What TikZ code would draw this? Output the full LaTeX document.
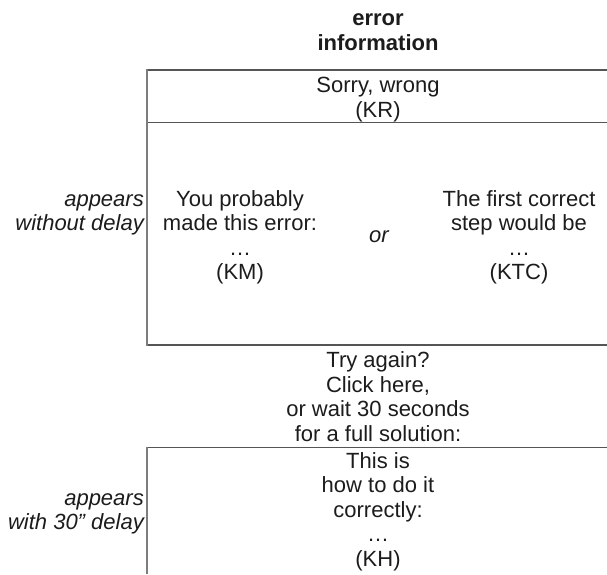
\documentclass[tikz,border=0pt]{standalone}
\usepackage{fontspec}
\setmainfont{Liberation Sans}
\newcommand\cblk[1]{\begin{tabular}[t]{@{}c@{}}#1\end{tabular}}
\newcommand\rblk[1]{\begin{tabular}[t]{@{}r@{}}#1\end{tabular}}
\definecolor{txt}{RGB}{28,28,28}
\definecolor{hline}{RGB}{85,85,85}
\definecolor{vline}{RGB}{125,125,125}
\tikzset{
  lbl/.style={inner sep=0pt, anchor=base, text=txt, font=\fontsize{22}{24.5}\selectfont},
  side/.style={lbl, anchor=base east, font=\fontsize{22}{24.5}\selectfont\itshape},
  hrule/.style={draw=hline, line width=1.3pt},
  vrule/.style={draw=vline, line width=1.6pt}
}
\begin{document}
\begin{tikzpicture}[x=1pt, y=-1pt]
\useasboundingbox[fill=white] (0,0) rectangle (607,574);
% frames
\draw[hrule] (146.7,70) -- (607,70);
\draw[hrule] (146.7,122.7) -- (607,122.7);
\draw[hrule] (146.7,345) -- (607,345);
\draw[vrule] (146.7,69.4) -- (146.7,345.6);
\draw[hrule] (146.7,447.3) -- (607,447.3);
\draw[vrule] (146.7,446.7) -- (146.7,574);
% texts
\node[lbl, font=\fontsize{22}{25}\selectfont\bfseries] (title) at (378,25) {\cblk{error\\information}};
\node[lbl, font=\fontsize{22}{25}\selectfont] (kr) at (378,92) {\cblk{Sorry, wrong\\(KR)}};
\node[side] (imm) at (144,206) {\rblk{appears\\without delay}};
\node[lbl] (km) at (240,206) {\cblk{You probably\\made this error:\\\dots\\(KM)}};
\node[lbl, font=\fontsize{22}{24.5}\selectfont\itshape] (or) at (379,242) {or};
\node[lbl] (ktc) at (519,206) {\cblk{The first correct\\step would be\\\dots\\(KTC)}};
\node[lbl] (try) at (378,367.5) {\cblk{Try again?\\Click here,\\or wait 30 seconds\\for a full solution:}};
\node[side] (late) at (144,505) {\rblk{appears\\with 30\symbol{34} delay}};
\node[lbl] (kh) at (378,468) {\cblk{This is\\how to do it\\correctly:\\\dots\\(KH)}};
\end{tikzpicture}
\end{document}
